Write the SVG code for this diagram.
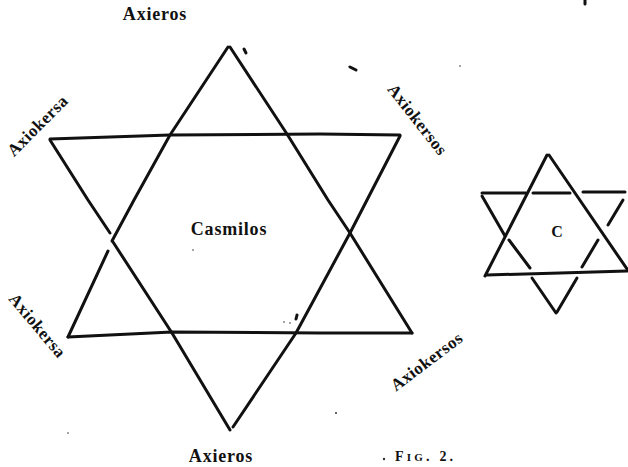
<svg xmlns="http://www.w3.org/2000/svg" width="628" height="467" viewBox="0 0 628 467">
  <style>
    .ln { fill: none; stroke: #111; stroke-width: 3; stroke-linecap: round; stroke-linejoin: round; }
    .lbl { font-family: "Liberation Serif", "Times New Roman", serif; font-weight: bold; fill: #111; }
    .big { font-size: 18px; letter-spacing: 0.8px; text-anchor: middle; }
    .rot { font-size: 17px; letter-spacing: 0.5px; text-anchor: middle; }
    .speck { fill: #333; }
  </style>
  <rect width="628" height="467" fill="#fff"/>

  <g id="large-star">
    <!-- upward triangle -->
    <polyline class="ln" points="228,47 170,135 134,200 112,241"/>
    <polyline class="ln" points="108,251 68,337"/>
    <polyline class="ln" points="230,47 287,134 328,200 350,233 412,333"/>
    <polyline class="ln" points="68,337 172,332 320,333 412,333"/>
    <!-- downward triangle -->
    <polyline class="ln" points="50,139 170,135 320,134 400,135"/>
    <polyline class="ln" points="50,140 88,200 110,233"/>
    <polyline class="ln" points="113,242 172,333 230,430"/>
    <polyline class="ln" points="400,136 367,200 350,233 296,333 233,427"/>
  </g>

  <g id="small-star">
    <!-- upward triangle -->
    <polyline class="ln" points="547,155 485,276"/>
    <polyline class="ln" points="549,155 627,269"/>
    <polyline class="ln" points="487,275 560,273 627,271"/>
    <!-- downward triangle, broken at crossings -->
    <polyline class="ln" points="482,193 526,193"/>
    <polyline class="ln" points="533,193 570,193"/>
    <polyline class="ln" points="583,192 625,192"/>
    <polyline class="ln" points="482,196 505,236"/>
    <polyline class="ln" points="509,240 530,268"/>
    <polyline class="ln" points="532,278 556,313"/>
    <polyline class="ln" points="623,200 608,225"/>
    <polyline class="ln" points="598,240 582,267"/>
    <polyline class="ln" points="577,278 557,312"/>
  </g>

  <g id="labels">
    <text id="label-axieros-top" class="lbl big" x="155" y="20">Axieros</text>
    <text id="label-casmilos" class="lbl big" x="229" y="235">Casmilos</text>
    <text id="label-axieros-bottom" class="lbl big" x="221" y="462">Axieros</text>
    <text id="label-c" class="lbl" x="557" y="237" font-size="16" text-anchor="middle">C</text>
    <text id="label-axiokersa-top" class="lbl rot" transform="translate(38,126) rotate(-45)" y="5">Axiokersa</text>
    <text id="label-axiokersos-top" class="lbl rot" transform="translate(417,120) rotate(52)" y="5">Axiokersos</text>
    <text id="label-axiokersa-bottom" class="lbl rot" transform="translate(37,326) rotate(50)" y="5">Axiokersa</text>
    <text id="label-axiokersos-bottom" class="lbl rot" transform="translate(427,362) rotate(-37)" y="5">Axiokersos</text>
    <text id="label-fig" class="lbl" x="395" y="461" font-size="14" letter-spacing="3.2">F<tspan font-size="11">IG</tspan>. 2.</text>
  </g>

  <g id="specks">
    <circle class="speck" cx="384" cy="459" r="1.2"/>
    <path class="ln" d="M244,49 l2,4" stroke-width="1.5"/>
    <path class="ln" d="M350,67 l6,3" stroke-width="2"/>
    <circle class="speck" cx="460" cy="66" r="0.8"/>
    <path class="ln" d="M585,0 l0,4" stroke-width="1"/>
    <circle class="speck" cx="193" cy="250" r="0.8"/>
    <circle class="speck" cx="68" cy="433" r="0.8"/>
    <circle class="speck" cx="336" cy="413" r="1"/>
    <circle class="speck" cx="284" cy="322" r="0.8"/>
    <circle class="speck" cx="290" cy="323" r="0.8"/>
    <path class="ln" d="M297,315 l-1,4" stroke-width="1.2"/>
  </g>
</svg>
